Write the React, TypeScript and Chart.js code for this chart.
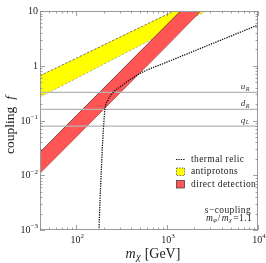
import { useEffect, useRef } from "react";
import { Chart, registerables } from "chart.js";

Chart.register(...registerables);

// ---- data ----
const bandMasses = [40, 100, 1000, 3000];
const antiprotonUpper = [0.658, 1.37, 8.7, 21.2];
const antiprotonLower = [0.272, 0.59, 4.28, 11.1];
const directUpper = [0.0264, 0.122, 5.66, 35.5];
const directLower = [0.0109, 0.05, 2.35, 15];
const relicMasses = [178, 183, 188, 196, 207, 224, 252, 324, 430, 554, 988, 2323, 5330, 10000];
const relicCoupling = [0.001, 0.0035, 0.01, 0.044, 0.156, 0.237, 0.318, 0.445, 0.62, 0.785, 1.16, 2.07, 3.63, 5.55];
const quarkLetters = ["u", "d", "q"];
const quarkSubs = ["R", "R", "L"];
const quarkCouplings = [0.325, 0.159, 0.079];
const xRange = [40, 10000];
const yRange = [0.001, 10];
const xTicks = [100, 1000, 10000];
const xTickBase = ["10", "10", "10"];
const xTickExp = ["2", "3", "4"];
const yTicks = [0.001, 0.01, 0.1, 1, 10];
const yTickBase = ["10", "10", "10", "1", "10"];
const yTickExp = ["\u22123", "\u22122", "\u22121", "", ""];

const SERIF = "'Liberation Serif', 'DejaVu Serif', serif";

function pts(xs: number[], ys: number[]) {
  return xs.map((x, i) => ({ x, y: ys[i] }));
}

type Seg = { t: string; font: string; dy?: number; gap?: number };

function segWidth(ctx: CanvasRenderingContext2D, segs: Seg[]) {
  let w = 0;
  for (const s of segs) {
    ctx.font = s.font;
    w += ctx.measureText(s.t).width + (s.gap || 0);
  }
  return w;
}

function drawSegs(ctx: CanvasRenderingContext2D, segs: Seg[], x: number, y: number, align: "left" | "center" | "right") {
  const w = segWidth(ctx, segs);
  let cx = align === "left" ? x : align === "center" ? x - w / 2 : x - w;
  ctx.textAlign = "left";
  ctx.textBaseline = "middle";
  for (const s of segs) {
    ctx.font = s.font;
    ctx.fillText(s.t, cx, y + (s.dy || 0));
    cx += ctx.measureText(s.t).width + (s.gap || 0);
  }
}

const decorations = {
  id: "decorations",
  afterDraw(chart: any) {
    const ctx: CanvasRenderingContext2D = chart.ctx;
    const a = chart.chartArea;
    const xs = chart.scales.x;
    const ys = chart.scales.y;
    ctx.save();

    // frame
    ctx.strokeStyle = "#9a9a9a";
    ctx.lineWidth = 1;
    ctx.strokeRect(Math.round(a.left) + 0.5, Math.round(a.top) + 0.5, Math.round(a.right - a.left) - 1, Math.round(a.bottom - a.top) - 1);

    // ticks (inward, all sides)
    ctx.strokeStyle = "#8a8a8a";
    ctx.lineWidth = 0.8;
    ctx.beginPath();
    for (let d = 1; d <= 4; d++) {
      for (let k = 1; k <= 9; k++) {
        const v = k * Math.pow(10, d);
        if (v < xRange[0] - 1e-9 || v > xRange[1] + 1e-9) continue;
        const px = Math.round(xs.getPixelForValue(v)) + 0.5;
        const len = k === 1 ? 5 : 2.5;
        ctx.moveTo(px, a.bottom);
        ctx.lineTo(px, a.bottom - len);
        ctx.moveTo(px, a.top);
        ctx.lineTo(px, a.top + len);
      }
    }
    for (let d = -3; d <= 1; d++) {
      for (let k = 1; k <= 9; k++) {
        const v = k * Math.pow(10, d);
        if (v < yRange[0] * 0.999 || v > yRange[1] * 1.001) continue;
        const py = Math.round(ys.getPixelForValue(v)) + 0.5;
        const len = k === 1 ? 5 : 2.5;
        ctx.moveTo(a.left, py);
        ctx.lineTo(a.left + len, py);
        ctx.moveTo(a.right, py);
        ctx.lineTo(a.right - len, py);
      }
    }
    ctx.stroke();

    ctx.fillStyle = "#222";
    const base = `10px ${SERIF}`;
    const sup = `7px ${SERIF}`;
    // x tick labels
    xTicks.forEach((v, i) => {
      const px = xs.getPixelForValue(v);
      drawSegs(ctx, [
        { t: xTickBase[i], font: base },
        { t: xTickExp[i], font: sup, dy: -4 },
      ], px + 1, a.bottom + 10, "center");
    });
    // y tick labels
    yTicks.forEach((v, i) => {
      const py = ys.getPixelForValue(v);
      const segs: Seg[] = [{ t: yTickBase[i], font: base }];
      if (yTickExp[i]) segs.push({ t: yTickExp[i], font: sup, dy: -4 });
      drawSegs(ctx, segs, a.left - 2, py + 0.5, "right");
    });

    // x title
    drawSegs(ctx, [
      { t: "m", font: `italic 14px ${SERIF}`, gap: 0.5 },
      { t: "\u03c7", font: `italic 10px ${SERIF}`, dy: 3, gap: 4 },
      { t: "[GeV]", font: `14px ${SERIF}` },
    ], 153, 254, "center");

    // y title
    ctx.save();
    ctx.translate(10, 125);
    ctx.rotate(-Math.PI / 2);
    drawSegs(ctx, [
      { t: "coupling", font: `13.5px ${SERIF}`, gap: 7 },
      { t: "f", font: `italic 13.5px ${SERIF}` },
    ], 0, 0, "center");
    ctx.restore();

    // quark labels
    ctx.fillStyle = "#333";
    quarkLetters.forEach((l, i) => {
      const py = ys.getPixelForValue(quarkCouplings[i]);
      drawSegs(ctx, [
        { t: l, font: `italic 9px ${SERIF}`, gap: 0.5 },
        { t: quarkSubs[i], font: `italic 6px ${SERIF}`, dy: 2 },
      ], a.right - 13, py - 5.5, "center");
    });

    // legend
    ctx.fillStyle = "#222";
    const lf = `9.5px ${SERIF}`;
    (ctx as any).letterSpacing = "0.4px";
    ctx.strokeStyle = "#111";
    ctx.lineWidth = 1.2;
    ctx.setLineDash([1.3, 1.1]);
    ctx.beginPath();
    ctx.moveTo(176, 159.5);
    ctx.lineTo(185, 159.5);
    ctx.stroke();
    ctx.setLineDash([]);
    drawSegs(ctx, [{ t: "thermal relic", font: lf }], 191, 159, "left");

    ctx.fillStyle = "#ffff00";
    ctx.fillRect(176.5, 168, 8, 7.5);
    ctx.strokeStyle = "#555";
    ctx.lineWidth = 0.8;
    ctx.setLineDash([1.5, 1.2]);
    ctx.strokeRect(176.5, 168, 8, 7.5);
    ctx.setLineDash([]);
    ctx.fillStyle = "#222";
    drawSegs(ctx, [{ t: "antiprotons", font: lf }], 191, 171.7, "left");

    ctx.fillStyle = "#ff5555";
    ctx.fillRect(176.5, 180.5, 8, 7.5);
    ctx.strokeStyle = "#444";
    ctx.strokeRect(176.5, 180.5, 8, 7.5);
    ctx.fillStyle = "#222";
    drawSegs(ctx, [{ t: "direct detection", font: lf }], 191, 184.3, "left");

    drawSegs(ctx, [{ t: "s\u2212coupling", font: lf }], 228, 210, "center");
    drawSegs(ctx, [
      { t: "m", font: `italic 9.5px ${SERIF}` },
      { t: "\u03c6", font: `italic 6.5px ${SERIF}`, dy: 2, gap: 0.5 },
      { t: "/", font: lf, gap: 1 },
      { t: "m", font: `italic 9.5px ${SERIF}` },
      { t: "\u03c7", font: `italic 6.5px ${SERIF}`, dy: 2, gap: 1 },
      { t: "=1.1", font: lf },
    ], 229, 218.5, "center");
    (ctx as any).letterSpacing = "0px";

    ctx.restore();
  },
};

export default function App() {
  const ref = useRef<HTMLCanvasElement | null>(null);
  useEffect(() => {
    document.body.style.margin = "0";
    if (!ref.current) return;
    const lineDs = (label: string, ys: number[], color: string) => ({
      label,
      data: pts(xRange, [ys[0], ys[0]]),
      borderColor: color,
      borderWidth: 1.3,
      pointRadius: 0,
      fill: false,
    });
    const chart = new Chart(ref.current, {
      type: "line",
      data: {
        datasets: [
          {
            label: "thermal relic",
            data: pts(relicMasses, relicCoupling),
            borderColor: "#111",
            borderWidth: 1.3,
            borderDash: [1.3, 1.1],
            pointRadius: 0,
            cubicInterpolationMode: "monotone",
            fill: false,
          },
          ...quarkCouplings.map((c, i) => lineDs(quarkLetters[i] + quarkSubs[i], [c], "#b4b4b4")),
          {
            label: "direct detection upper",
            data: pts(bandMasses, directUpper),
            borderColor: "#5a2a2a",
            borderWidth: 0.8,
            backgroundColor: "#ff5555",
            pointRadius: 0,
            fill: "+1",
          },
          {
            label: "direct detection lower",
            data: pts(bandMasses, directLower),
            borderColor: "#5a2a2a",
            borderWidth: 0.8,
            pointRadius: 0,
            fill: false,
          },
          {
            label: "antiprotons upper",
            data: pts(bandMasses, antiprotonUpper),
            borderColor: "#555",
            borderWidth: 0.8,
            borderDash: [2.5, 1.5],
            backgroundColor: "#ffff00",
            pointRadius: 0,
            fill: "+1",
          },
          {
            label: "antiprotons lower",
            data: pts(bandMasses, antiprotonLower),
            borderColor: "#555",
            borderWidth: 0.8,
            borderDash: [2.5, 1.5],
            pointRadius: 0,
            fill: false,
          },
        ] as any,
      },
      options: {
        animation: false,
        responsive: false,
        maintainAspectRatio: false,
        layout: { padding: { left: 40, right: 8, top: 11, bottom: 33 } },
        plugins: { legend: { display: false }, tooltip: { enabled: false } },
        scales: {
          x: { type: "logarithmic", min: xRange[0], max: xRange[1], display: false },
          y: { type: "logarithmic", min: yRange[0], max: yRange[1], display: false },
        },
      },
      plugins: [decorations],
    });
    return () => chart.destroy();
  }, []);
  return <canvas ref={ref} width={266} height={263} style={{ display: "block", width: 266, height: 263 }} />;
}
